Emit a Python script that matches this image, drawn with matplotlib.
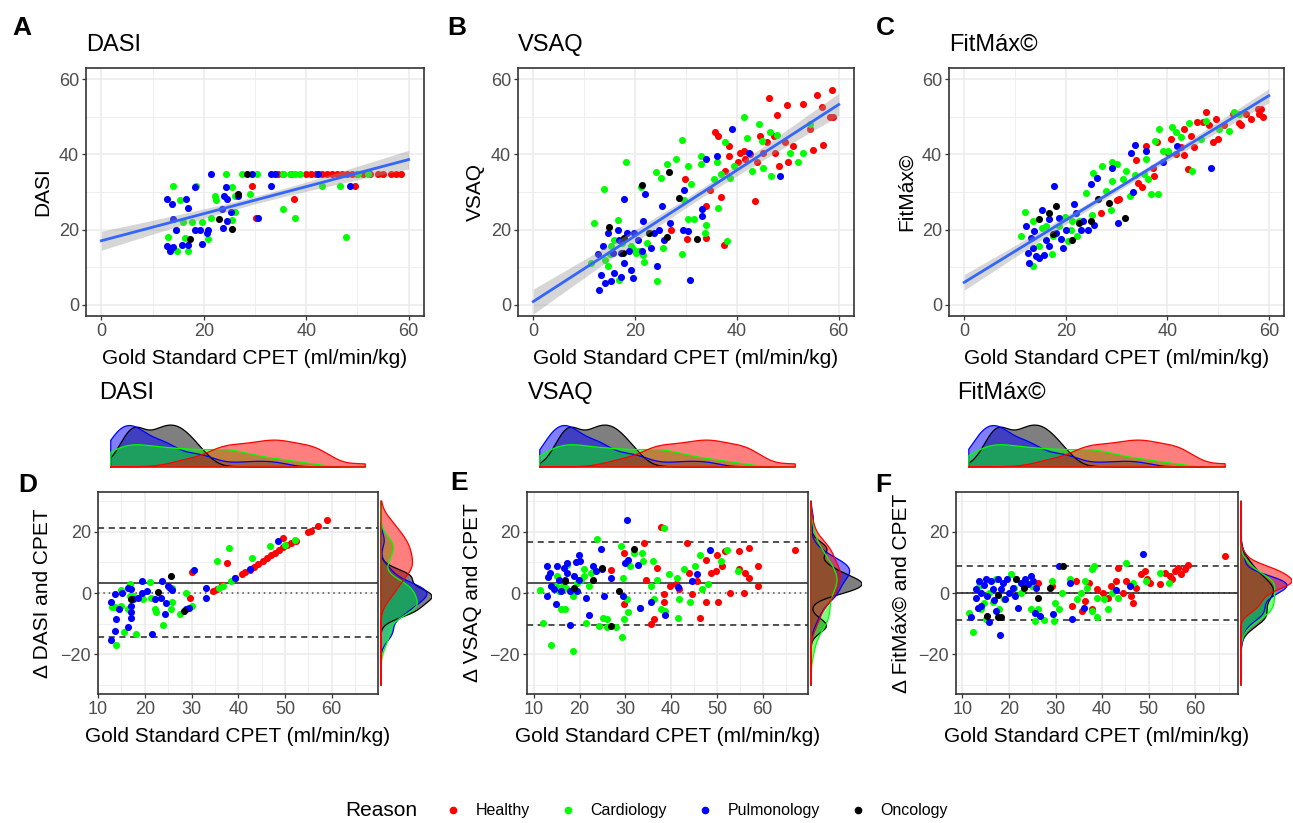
import numpy as np
import matplotlib
matplotlib.use('Agg')
import matplotlib.pyplot as plt
from matplotlib.lines import Line2D

plt.rcParams['font.family'] = ['Liberation Sans', 'DejaVu Sans']

W, H = 1293, 823

reasons = ['Healthy', 'Cardiology', 'Pulmonology', 'Oncology']
colors = ['#FF0000', '#00FF00', '#0000FF', '#000000']

# ---------------- A: DASI vs CPET ----------------
a_x_healthy = [29.5, 30.2, 37.6, 34.5, 35.5, 37, 40, 41, 42, 43, 44, 45, 46, 47, 48, 49, 50, 51,
               52.5, 54, 55, 56.5, 57.5, 58.5, 49.5]
a_y_healthy = [31.6, 23.1, 28.2, 34.7, 34.7, 34.7, 34.7, 34.7, 34.7, 34.7, 34.7, 34.7, 34.7, 34.7,
               34.7, 34.7, 34.7, 34.7, 34.7, 34.7, 34.7, 34.7, 34.7, 34.7, 31.6]
a_x_cardio = [13.9, 13.1, 14.5, 14.7, 15.4, 16.4, 15.9, 17, 17.7, 18.4, 19.7, 20.9, 21.4, 22.1, 22.4,
              24.3, 25.6, 25.6, 26.1, 26.1, 27.4, 29, 30.3, 35.5, 35.4, 36.8, 37.8, 38.8, 37.9, 43,
              46.6, 47.7, 50.1, 52.1]
a_y_cardio = [31.6, 17.9, 20, 14.2, 28, 17.8, 22, 14.2, 22, 31.6, 22, 17.5, 23.1, 29, 28,
              34.7, 31.2, 22.5, 24.7, 29, 34.7, 29.4, 34.7, 34.7, 25.5, 34.7, 34.7, 34.7, 23.1, 31.6,
              31.6, 17.9, 34.7, 34.7]
a_x_pulmo = [12.8, 13.8, 13.9, 12.8, 13.4, 14, 14.5, 16.6, 17, 15.7, 17, 18.3, 18.3, 19.3, 19.6,
             20.9, 20.6, 21.4, 23.9, 23.5, 23.7, 24.3, 24.5, 24.6, 25.3, 26.6, 29.4, 30.6, 33.1, 33.9,
             33.2, 42.3, 48.5]
a_y_pulmo = [28.2, 26.7, 22.9, 15.5, 14.2, 15.4, 20, 28.2, 25.8, 16, 16, 31.2, 20, 20, 16.2,
             20, 19.1, 34.7, 28.9, 25.4, 20.4, 31.3, 28.2, 22.2, 24.7, 28.9, 34.7, 23.1, 34.7, 34.7,
             31.6, 34.7, 31.6]
a_x_onco = [28.5, 22.9, 25.5, 26.6, 17.3]
a_y_onco = [34.7, 22.9, 20.2, 29.6, 17.5]

# ---------------- B: VSAQ vs CPET ----------------
b_x_healthy = [27, 29.9, 30.1, 34, 34, 34.8, 35.6, 36.3, 36.8, 37.6, 37.4, 38.4, 38.5, 40.3, 40.7,
               41.3, 41.6, 42.6, 43.6, 44, 44.6, 45.2, 45.9, 46.4, 47.2, 47.5, 47.9, 48.2, 49.4, 49.9,
               50.1, 51.1, 53, 54.3, 54.9, 55.8, 56.9, 56.8, 58.6, 58.9, 58.2]
b_y_healthy = [19.8, 33.4, 17.5, 26.3, 17.8, 30.5, 45.9, 45, 28.8, 35.6, 16, 42.3, 39.5, 37.9, 40.5,
               41, 38.8, 40.1, 27.6, 37.9, 45, 40.5, 43.2, 55, 45, 40.5, 50.4, 37, 43.2, 53.2,
               37.9, 42.3, 53.5, 46.8, 41.3, 55.7, 42.5, 52.6, 57.1, 49.9, 49.9]
b_x_cardio = [11.4, 12, 13.9, 14, 14.6, 15.3, 15.8, 16.6, 16.9, 18.2, 19.2, 20.2, 20.8, 21.1, 21.8,
              22.4, 24.1, 24.3, 25.1, 25.4, 26.2, 28, 29.3, 29.3, 29.6, 30.3, 30.3, 30.9, 31.6, 32.9,
              33, 33.7, 34, 35.5, 36.1, 36.3, 36.8, 37.7, 38.1, 38.7, 39.4, 41.3, 42, 42.9, 44.3,
              44.9, 45.2, 46.5, 46.6, 47.9, 50.4, 52, 53, 54.3, 15, 17.5, 19.5, 21.5, 22.8]
b_y_cardio = [11.1, 21.8, 30.9, 12, 10.2, 15.5, 17.3, 22.5, 6.6, 37.9, 15.5, 13.8, 14.2, 31.4, 11.5,
              16.4, 35.2, 6.4, 33.6, 15.1, 37.4, 38.9, 43.9, 13.6, 28, 37, 22.7, 32.1, 22.7, 37.4,
              39.6, 19.1, 21.3, 33.4, 37.9, 25.8, 34.7, 43.2, 16.9, 33.8, 37, 49.9, 44.3, 35.6, 48.1,
              43.7, 36.3, 45.9, 34.3, 45.2, 40.4, 38.1, 40.5, 48.1, 13.5, 16.5, 14.8, 13.2, 19]
b_x_pulmo = [12.7, 13, 13.3, 13.7, 14, 14.6, 15.3, 15.6, 15.9, 16.6, 16.9, 17.2, 17.2, 17.8, 17.9,
             18.5, 18.9, 19.2, 19.5, 19.8, 20.5, 21.3, 21.6, 21.9, 23.1, 23.7, 24.4, 24.7, 25.2, 25.7,
             26.8, 29.4, 29.6, 30.3, 30.7, 33.2, 33.2, 34, 36, 39, 42.3, 48.5]
b_y_pulmo = [13.6, 3.9, 7.9, 15.5, 5.7, 19.1, 6.2, 13.8, 8.4, 20, 17.3, 13.8, 7.5, 28.2, 11.1,
             19.1, 14.2, 9.3, 7.1, 19.1, 17.3, 14.2, 22.2, 29.4, 15.1, 19.1, 10.2, 20, 26.3, 17.3,
             21.8, 20, 30.5, 19.6, 6.6, 25.4, 23.6, 38.9, 39.6, 46.8, 40.5, 34.3]
b_x_onco = [14.8, 17.6, 17.9, 21.3, 22.8, 26.2, 26.7, 28.6, 32.1]
b_y_onco = [20.7, 13.8, 17.8, 31.8, 19.1, 18, 35.2, 28.5, 17.5]

# ---------------- C: FitMax vs CPET ----------------
c_x_healthy = [26.9, 30, 30.5, 33.8, 34.3, 35, 35.9, 37.1, 37.4, 37.9, 40.2, 40.7, 41.7, 42.7, 43.3,
               43.3, 44, 44.6, 45.3, 45.9, 47, 47.6, 48.3, 49, 49.6, 49.9, 51.2, 52.9, 54.2, 55.5,
               56.5, 57.8, 58.1, 58.8, 58.5, 54.5]
c_y_healthy = [24.3, 28, 28.2, 38.6, 32.3, 31.4, 42.3, 36.5, 34.3, 43.2, 40.5, 44.1, 40.1, 41.9, 46.8,
               39.8, 36.1, 45, 41.9, 48.6, 48.6, 51.3, 47.7, 43.2, 49.5, 44.1, 47.7, 50.8, 48.4, 50.8,
               49.5, 52.1, 50.8, 49.9, 52.1, 47.7]
c_x_cardio = [11.2, 12, 13.5, 13.6, 14.8, 15.4, 16.1, 17.4, 17.3, 18.7, 19.8, 20.4, 21, 21.3, 22.3,
              22.6, 24, 25.1, 25.4, 27.2, 27.9, 28.9, 29.1, 29.2, 30, 31.2, 31.8, 32.6, 33.7, 35.5,
              35.9, 36.3, 36.8, 37.6, 38.1, 38.4, 39.1, 40.1, 40.9, 41.7, 42.7, 44.3, 44.9, 46.6, 47.6,
              50.2, 52.2, 53.2, 54.2]
c_y_cardio = [18.2, 24.8, 22.2, 10.2, 15.5, 20.4, 20.9, 18.2, 13.6, 20.9, 23.4, 16.9, 20, 22.2, 18.2,
              22.2, 29.8, 24, 35, 37, 30.3, 25.2, 32.9, 38, 37.4, 33.4, 35.6, 28.9, 34.5, 34.7,
              38.8, 33.4, 29.4, 43.7, 29.4, 46.8, 41, 41, 47.2, 45.9, 44.6, 48.4, 35.6, 44.1, 48.8,
              46.8, 46.2, 51.3, 50.8]
c_x_pulmo = [12.1, 12.5, 12.8, 13.1, 13.5, 13.8, 14.1, 14.8, 15.3, 15.8, 16.2, 16.7, 16.7, 17.6, 18.1,
             18.6, 19, 19.4, 20, 21.7, 22, 23, 23.4, 24.3, 24.9, 25.6, 26.1, 29.2, 30.2, 32.8,
             33.2, 33.7, 35.8, 39.2, 42, 48.6]
c_y_pulmo = [20.9, 13.8, 11.1, 17.8, 15.1, 19.6, 12.9, 12.4, 25.2, 13.3, 17.1, 22.7, 15.5, 31.6, 19.1,
             23.1, 17.5, 15.1, 20, 26.8, 24.5, 20, 22.2, 20, 32.1, 21.3, 33.8, 36.3, 21.8, 40.5,
             30, 42.5, 41, 38, 42.3, 36.3]
c_x_onco = [14.8, 16.7, 18.1, 17.4, 21.3, 22.6, 24.9, 26.3, 28.6, 31.7]
c_y_onco = [22.7, 24.5, 26.3, 18.7, 17.3, 21.8, 22.2, 28.2, 27.1, 23.1]

# ---------------- D: DASI difference ----------------
d_x_healthy = [34.6, 35.5, 36.6, 39.3, 40.7, 41.4, 42.5, 43.4, 44.3, 45.4, 46.1, 47, 47.9, 48.7,
               49.6, 50.5, 51.4, 52.3, 54.9, 55.6, 57.1, 59.1, 30.2, 37.5, 29.6, 49.6, 67.2]
d_y_healthy = [0.6, 1.4, 2.5, 4.8, 6.3, 6.8, 7.5, 8.5, 9.5, 10.6, 11.4, 12.4, 13.2, 14,
               15, 15.7, 16.3, 17, 19.8, 20.4, 22, 24, 6.8, 9.8, -1.5, 18, 35]
d_x_cardio = [12.9, 13.6, 13.9, 14.8, 15, 15.5, 16.4, 16.8, 16.9, 17.5, 18.2, 19.6, 21.1, 21.3, 22.1,
              22.4, 23.9, 25.6, 25.9, 25.9, 27.5, 28.9, 30.2, 35.4, 35.9, 36.8, 38.1, 38.4, 42.9, 46.8,
              50, 52.1]
d_y_cardio = [-4.7, -4.7, -17.1, 1, -4.2, -12.6, -5.3, -1, 2.8, -1, -13.3, -2, 3.5, -1.5, -5.3,
              -6.3, -10.4, -5.3, -2.8, 1.7, -7, 0.1, -4.4, 10.3, 1.7, 2.3, 14.6, 3.9, 11.4, 15.2,
              15.7, 17.3]
d_x_pulmo = [12.7, 12.7, 13.6, 13.6, 13.9, 14.5, 15.2, 16.3, 16.4, 17, 17, 17, 17, 17.4, 19.3,
             19.3, 18.6, 20.4, 21.6, 22.1, 23.7, 23.4, 24.3, 24.6, 24.9, 25.4, 25.9, 28.9, 29.5, 30.5,
             33, 33.2, 39.4, 42.5, 48.6]
d_y_pulmo = [-2.9, -15.3, -0.4, -12.5, -8.5, -5.3, 0.1, 1.7, -11.2, 1.2, -6.3, -8.3, -4.2, -2, 3.8,
             0.1, -1.5, 0.6, -13.3, -2, 3.8, -1.5, -6.9, -3.3, 2.3, 1.7, 1, -5.1, -4.8, 7.4,
             -1.6, 1.7, 4.8, 7.8, 17.1]
d_x_onco = [25.7, 22.9, 28.4, 17.1]
d_y_onco = [5.5, 0.4, -6, -2]

# ---------------- E: VSAQ difference ----------------
e_x_healthy = [26.9, 29.7, 29.7, 34, 34.6, 36.2, 35.6, 37, 37.7, 38.4, 38.4, 39.7, 41, 41.7, 43.5,
               43.9, 44.6, 45.7, 46.4, 47.7, 47.7, 48.6, 49.7, 50.1, 50.2, 51.1, 51.8, 52.9, 54.8, 54.8,
               56.2, 56.9, 56.9, 56, 58.9, 58.9, 67.1]
e_y_healthy = [7.4, 13.1, -3.7, 16.3, 4.4, -8.5, -10.2, 8.2, 21.7, -0.4, -3.1, 2.3, 2.8, 1.2, 16.3,
               6.6, -0.4, 3.9, -8.3, 10.9, -2.9, 6.6, 7.1, 12.5, -2.9, 8.8, 13.6, 0.1, 13.6, 7.7,
               6.6, 14.7, 5, 0.1, 8.8, 2.3, 14.2]
e_x_cardio = [11.3, 12.1, 13.8, 15.1, 14.8, 15.9, 16.4, 16.9, 17.3, 18.6, 19.5, 20.2, 21, 21.5, 22,
              23.9, 24.2, 25.2, 26, 26, 27.9, 29.1, 29.3, 29.5, 29.8, 30.3, 30.5, 30.9, 31.9, 33.2,
              33.6, 33.8, 35.5, 36, 36.3, 36.8, 37.8, 38.4, 38.7, 39.5, 41.3, 41.4, 41.8, 42.8, 44.2,
              45.2, 46.4, 46.8, 48.1, 50.8, 52.3, 54.5, 15.5, 17, 18.5, 21, 22.5]
e_y_cardio = [1, -9.9, -16.9, 5.5, 2.3, -5.3, 2.3, -5.3, 9.3, -19.1, 3.4, 4.4, 7.7, -9.9, 2.3,
              17.6, -10.7, -8.3, -11.2, -8.5, -11.2, 15.2, -14.5, 5, -8.5, -2.1, -6.1, 8.8, 13.1, -4.8,
              13.1, 10.4, 2.3, 10.4, -2.1, 4.4, -5.3, 21.4, -5.8, 6.1, 5, -8.3, -2.1, 7.7, -2.9,
              8.8, 12.5, 1.2, 2.8, 10.4, 14.2, 7.1, 0.5, 1.5, -1, 5.5, 6.5]
e_x_pulmo = [12.9, 13.1, 13.5, 13.8, 12.9, 14.4, 14.8, 15.1, 15.5, 16, 16.6, 16.9, 17.3, 17.3, 17.9,
             18, 18.8, 19.3, 19.5, 19.8, 20, 19.8, 21.4, 22, 22.9, 23.5, 24.6, 24.9, 25.3, 26.8,
             30.4, 30, 30.5, 29.5, 32.8, 33.3, 35.6, 38.6, 41.5, 48.4, 44.5, 45.6]
e_y_pulmo = [8.8, 5.3, 6.6, 2.3, -1, 1.2, -3.7, 8.8, 4.4, 0.6, 8.2, 4.4, 9.8, 6.6, -10.4,
             0.6, 5.5, 10.1, 0.6, 12.5, 10.4, 4.4, -1.5, -7.2, 8.8, 7.1, 14.4, 7.7, -1, 5,
             23.9, 9.8, 10.9, -1, 9.3, -4.8, -2.9, -7.2, 2.1, 14.2, 3.9, 6.1]
e_x_onco = [16.9, 18.8, 22.9, 24.8, 26.8, 28.7, 31.9]
e_y_onco = [3.9, 1.7, 4.4, 8.2, -10.7, 0.6, 14.4]

# ---------------- F: FitMax difference ----------------
f_x_healthy = [26.3, 29.3, 33.6, 34.3, 35.6, 36.4, 37.2, 37.9, 39, 40.1, 41.2, 41.9, 43, 43.3, 44.4,
               45.1, 46.2, 46.7, 47.3, 48.4, 49.1, 49.6, 50.2, 52.4, 53.4, 54.5, 54.9, 55.6, 56.3, 57,
               57.8, 58.5, 66.4]
f_y_healthy = [3.4, 2.3, -4.2, 3.9, -5.9, -2.6, 3.4, -5.3, 1.2, 0.1, -1.5, 2.3, 3.9, 8.3, 0.1,
               3.9, -1, -3.4, 1.7, 6.1, 7.2, 4.5, 3.4, 2.8, 6.6, 5.5, 4.5, 7.2, 8.3, 6.1,
               7.7, 9.3, 12.1]
f_x_cardio = [11.4, 12.2, 13.6, 14, 14.7, 15.1, 15.8, 16.5, 17.2, 17.8, 18.9, 20.5, 21.2, 21.6, 22.7,
              24.7, 25, 25.6, 26.3, 27.6, 29.2, 29.6, 29.9, 30.7, 31.4, 33.2, 34.6, 35.4, 36.4, 36.8,
              37.8, 38.3, 37.8, 38.8, 39, 40.4, 41.2, 42.2, 43.3, 45.1, 46.7, 49.5, 52.4, 54.4]
f_y_cardio = [-6.4, -12.7, 2.3, -5.3, -3.2, -8.6, 0.1, -2.9, 4.7, -5.3, -2.1, 6.1, 1.7, 4.5, 0.1,
              -5.3, 2.3, -9.1, -5.3, -8.8, 3.9, -9.1, -3.2, -5.3, 0.1, 4.5, -2.1, 0.1, 3.9, 1.7,
              7.7, 8.8, -5.9, -7.7, -1.5, -2.1, -5.3, 0.1, -1.5, 9.9, 3.4, 3.9, 6.6, 3.4]
f_x_pulmo = [11.8, 12.9, 12.9, 13.3, 13.6, 14, 14.1, 14.6, 15.1, 15.4, 15.8, 16.2, 16.5, 16.9, 17.2,
             17.6, 18, 18.3, 18.7, 19.1, 19.6, 20.1, 20.9, 21.4, 22, 22.7, 23.4, 24.1, 24.7, 25.2,
             25.6, 25.9, 26.7, 29.4, 30.7, 33.2, 33.6, 36.1, 48.8, 45.9, 43]
f_y_pulmo = [-8, 1.4, -1.5, -4.8, 3.9, 0.1, -4.2, 2.5, 4.5, -1, -9.5, 3.9, 1.2, -2.3, -5.9,
             4.5, -13.7, 1.2, 3.4, -2.1, 4.7, 0.1, 1.7, -1, -4.8, 3.4, 4.7, 2.8, 5.5, 3.9,
             -6.4, 1.7, -7.5, -7, 8.8, 3.4, -8.6, -4.8, 12.6, 2.3, 1]
f_x_onco = [15.3, 17.6, 18.3, 17.6, 21.6, 23.3, 26.3, 28.8, 31.7]
f_y_onco = [-7.5, -8, -8, -0.8, 4.5, 1.7, -1.5, 1.7, 8.8]

# Bland-Altman bias and limits of agreement (D, E, F)
ba_bias = [3.3, 3.3, 0.0]
ba_upper = [21.3, 16.6, 8.8]
ba_lower = [-14.5, -10.4, -8.8]

tools = ['DASI', 'VSAQ', 'FitMáx©']
top_groups = [
    [(a_x_healthy, a_y_healthy), (a_x_cardio, a_y_cardio), (a_x_pulmo, a_y_pulmo), (a_x_onco, a_y_onco)],
    [(b_x_healthy, b_y_healthy), (b_x_cardio, b_y_cardio), (b_x_pulmo, b_y_pulmo), (b_x_onco, b_y_onco)],
    [(c_x_healthy, c_y_healthy), (c_x_cardio, c_y_cardio), (c_x_pulmo, c_y_pulmo), (c_x_onco, c_y_onco)],
]
bot_groups = [
    [(d_x_healthy, d_y_healthy), (d_x_cardio, d_y_cardio), (d_x_pulmo, d_y_pulmo), (d_x_onco, d_y_onco)],
    [(e_x_healthy, e_y_healthy), (e_x_cardio, e_y_cardio), (e_x_pulmo, e_y_pulmo), (e_x_onco, e_y_onco)],
    [(f_x_healthy, f_y_healthy), (f_x_cardio, f_y_cardio), (f_x_pulmo, f_y_pulmo), (f_x_onco, f_y_onco)],
]

GRID = '#EBEBEB'
BORDER = '#333333'
TICKLAB = '#4D4D4D'
# marginal densities are stacked with the last group on top
dens_order = [3, 2, 1, 0]


def rect(l, t, r, b):
    return [l / W, 1 - b / H, (r - l) / W, (b - t) / H]


def fx(px):
    return px / W


def fy(py):
    return 1 - py / H


def style(ax, xmaj, xmin, ymaj, ymin):
    ax.set_xticks(xmaj)
    ax.set_xticks(xmin, minor=True)
    ax.set_yticks(ymaj)
    ax.set_yticks(ymin, minor=True)
    ax.grid(which='major', color=GRID, lw=1.1)
    ax.grid(which='minor', color=GRID, lw=0.55)
    ax.set_axisbelow(True)
    ax.tick_params(which='major', length=3, width=0.9, color=BORDER,
                   labelsize=13, labelcolor=TICKLAB, pad=2)
    ax.tick_params(which='minor', length=0)
    for s in ax.spines.values():
        s.set_color(BORDER)
        s.set_linewidth(1.2)


def kde(values, grid):
    v = np.asarray(values, float)
    n = len(v)
    sd = v.std(ddof=1)
    q75, q25 = np.percentile(v, [75, 25])
    lo = min(sd, (q75 - q25) / 1.34)
    if lo <= 0:
        lo = sd
    bw = 0.9 * lo * n ** -0.2
    z = (grid[:, None] - v[None, :]) / bw
    return np.exp(-0.5 * z ** 2).sum(1) / (n * bw * np.sqrt(2 * np.pi))


fig = plt.figure(figsize=(W / 100, H / 100), dpi=100)

# ---------------- top row ----------------
top_lr = [(86, 424), (518, 854), (949, 1284)]
top_letters = [('A', 12), ('B', 447), ('C', 876)]
for i, (l, r) in enumerate(top_lr):
    ax = fig.add_axes(rect(l, 68, r, 316))
    allx = np.concatenate([np.asarray(g[0], float) for g in top_groups[i]])
    ally = np.concatenate([np.asarray(g[1], float) for g in top_groups[i]])
    # linear fit with 95% band
    slope, icpt = np.polyfit(allx, ally, 1)
    xs = np.linspace(0, 60, 100)
    n = len(allx)
    resid = ally - (icpt + slope * allx)
    s = np.sqrt((resid ** 2).sum() / (n - 2))
    sxx = ((allx - allx.mean()) ** 2).sum()
    se = s * np.sqrt(1 / n + (xs - allx.mean()) ** 2 / sxx)
    fit = icpt + slope * xs
    for (gx, gy), c in zip(top_groups[i], colors):
        ax.scatter(gx, gy, s=26, color=c, lw=0, zorder=3)
    ax.fill_between(xs, fit - 1.97 * se, fit + 1.97 * se, color='#999999', alpha=0.4, lw=0, zorder=4)
    ax.plot(xs, fit, color='#3366FF', lw=2, zorder=5)
    ax.set_xlim(-3, 63)
    ax.set_ylim(-3, 63)
    style(ax, [0, 20, 40, 60], [10, 30, 50], [0, 20, 40, 60], [10, 30, 50])
    ax.set_title(tools[i], loc='left', fontsize=17, pad=12)
    fig.text(fx((l + r) / 2), fy(358), 'Gold Standard CPET (ml/min/kg)', ha='center', va='center',
             fontsize=15)
    fig.text(fx(l - 43), fy(192), tools[i], rotation=90, ha='center', va='center', fontsize=15)
    fig.text(fx(top_letters[i][1]), fy(35), top_letters[i][0], fontsize=19, fontweight='bold',
             ha='left', va='baseline')

# CPET distribution by reason for the top marginals: same cohort in D, E and F
cohort_cpet = [np.concatenate([np.asarray(bot_groups[p][g][0], float) for p in range(3)])
               for g in range(4)]

# ---------------- bottom row ----------------
bot_lr = [(98, 378), (527, 808), (956, 1238)]
bot_letters = [('D', 18, 492), ('E', 450, 490), ('F', 875, 492)]
ylo, yhi = -30, 30
for i, (l, r) in enumerate(bot_lr):
    ax = fig.add_axes(rect(l, 492, r, 694))
    allx = np.concatenate([np.asarray(g[0], float) for g in bot_groups[i]])
    xmin, xmax = allx.min(), allx.max()
    pad = 0.05 * (xmax - xmin)
    ax.axhline(0, color='#4D4D4D', lw=1.1, ls=(0, (1, 2.5)), zorder=2)
    ax.axhline(ba_bias[i], color='#222222', lw=1.1, zorder=2)
    ax.axhline(ba_upper[i], color='#222222', lw=1.1, ls=(0, (4, 3)), zorder=2)
    ax.axhline(ba_lower[i], color='#222222', lw=1.1, ls=(0, (4, 3)), zorder=2)
    for (gx, gy), c in zip(bot_groups[i], colors):
        ax.scatter(gx, gy, s=26, color=c, lw=0, zorder=3)
    ax.set_xlim(xmin - pad, xmax + pad)
    ax.set_ylim(ylo - 3, yhi + 3)
    style(ax, [10, 20, 30, 40, 50, 60], [15, 25, 35, 45, 55, 65], [-20, 0, 20], [-30, -10, 10, 30])
    fig.text(fx((l + r) / 2), fy(737), 'Gold Standard CPET (ml/min/kg)', ha='center', va='center',
             fontsize=15)
    fig.text(fx(l - 55), fy(593), 'Δ ' + tools[i] + ' and CPET', rotation=90, ha='center',
             va='center', fontsize=15)
    fig.text(fx(l + 1), fy(399), tools[i], fontsize=17, ha='left', va='baseline')
    lt, lx, ly = bot_letters[i]
    fig.text(fx(lx), fy(ly), lt, fontsize=19, fontweight='bold', ha='left', va='baseline')

    # top marginal: density of CPET by group
    axt = fig.add_axes(rect(l, 423, r, 468))
    grid = np.linspace(xmin, xmax, 400)
    dens = [kde(v, grid) for v in cohort_cpet]
    m = max(d.max() for d in dens)
    for k in dens_order:
        d, c = dens[k], colors[k]
        axt.fill(np.r_[grid[0], grid, grid[-1]], np.r_[0, d, 0], facecolor=c, alpha=0.5,
                 edgecolor='none')
        axt.plot(np.r_[grid[0], grid, grid[-1], grid[0]], np.r_[0, d, 0, 0], color=c, lw=0.9)
    axt.set_xlim(xmin - pad, xmax + pad)
    axt.set_ylim(-0.03 * m, 1.05 * m)
    axt.axis('off')

    # right marginal: density of differences by group
    axr = fig.add_axes(rect(r + 2, 492, r + 54, 694))
    ygrid = np.linspace(ylo, yhi, 400)
    rd = []
    for gx, gy in bot_groups[i]:
        gy = np.asarray(gy, float)
        gy = gy[(gy >= ylo) & (gy <= yhi)]
        rd.append(kde(gy, ygrid))
    m = max(d.max() for d in rd)
    for k in dens_order:
        d, c = rd[k], colors[k]
        axr.fill(np.r_[0, d, 0], np.r_[ygrid[0], ygrid, ygrid[-1]], facecolor=c, alpha=0.5,
                 edgecolor='none')
        axr.plot(np.r_[0, d, 0, 0], np.r_[ygrid[0], ygrid, ygrid[-1], ygrid[0]], color=c, lw=0.9)
    axr.set_ylim(ylo - 3, yhi + 3)
    axr.set_xlim(-0.02 * m, 1.0 * m)
    axr.axis('off')

# ---------------- legend ----------------
handles = [Line2D([], [], marker='o', ls='', color=c, markersize=4.5) for c in colors]
fig.text(fx(345), fy(811), 'Reason', fontsize=15, ha='left', va='center')
fig.legend(handles, reasons, loc='center left', bbox_to_anchor=(fx(437), fy(811)), ncol=4,
           frameon=False, fontsize=11.5, handletextpad=0.8, columnspacing=1.8, handlelength=1.2,
           borderaxespad=0)

fig.savefig('out.png', dpi=100)
